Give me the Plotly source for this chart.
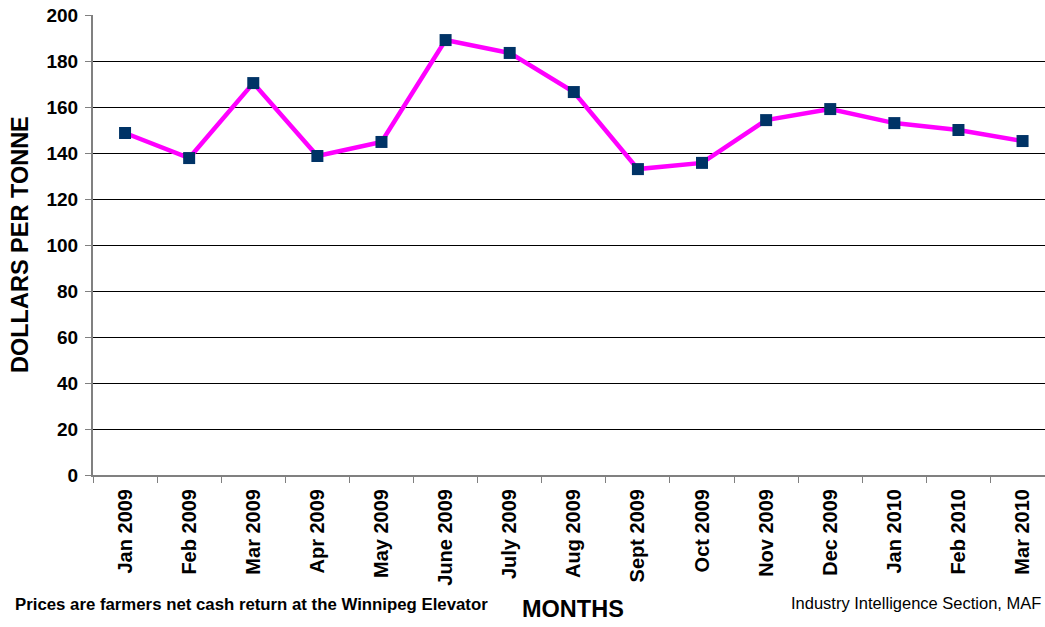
import plotly.graph_objects as go

months = ["Jan 2009", "Feb 2009", "Mar 2009", "Apr 2009", "May 2009", "June 2009",
          "July 2009", "Aug 2009", "Sept 2009", "Oct 2009", "Nov 2009", "Dec 2009",
          "Jan 2010", "Feb 2010", "Mar 2010"]
prices = [148.7, 137.8, 170.4, 138.7, 144.8, 189.1, 183.5, 166.5, 133.0, 135.7,
          154.3, 159.1, 153.0, 150.0, 145.2]
y_ticks = [0, 20, 40, 60, 80, 100, 120, 140, 160, 180, 200]

FONT = "Liberation Sans, Arial, sans-serif"
W, H = 1045, 627
L, R, T, B = 93, 0, 15, 152

fig = go.Figure()
fig.add_trace(go.Scatter(
    x=months, y=prices, mode="lines+markers",
    line=dict(color="#FF00FF", width=4.5),
    marker=dict(symbol="square", size=12, color="#003366", line=dict(width=0)),
    showlegend=False, cliponaxis=False,
))

plot_w = W - L - R
plot_h = H - T - B

def px_x(px):
    return (px - L) / plot_w

def px_y(py):
    return (H - B - py) / plot_h

fig.update_layout(
    width=W, height=H,
    margin=dict(l=L, r=R, t=T, b=B),
    paper_bgcolor="white", plot_bgcolor="white",
    font=dict(family=FONT, color="black"),
    xaxis=dict(
        type="category", range=[-0.5, 14.35], tickson="boundaries",
        ticks="outside", ticklen=6, tickcolor="#808080",
        showline=True, linecolor="#808080", linewidth=2,
        showgrid=False, tickangle=-90, ticklabelstandoff=4,
        tickfont=dict(family=FONT, size=20, color="black", weight="bold"),
    ),
    yaxis=dict(
        range=[0, 200], tickvals=y_ticks,
        ticks="outside", ticklen=6, tickcolor="#808080",
        showline=True, linecolor="#808080", linewidth=2,
        showgrid=True, gridcolor="black", gridwidth=1,
        zeroline=False, ticklabelstandoff=3,
        tickfont=dict(family=FONT, size=19, color="black", weight="bold"),
    ),
    annotations=[
        dict(text="DOLLARS PER TONNE", x=px_x(20), y=px_y(245),
             xref="paper", yref="paper", textangle=-90,
             xanchor="center", yanchor="middle", showarrow=False,
             font=dict(family=FONT, size=23.5, color="black", weight="bold")),
        dict(text="MONTHS", x=px_x(573), y=px_y(609), xref="paper", yref="paper",
             xanchor="center", yanchor="middle", showarrow=False,
             font=dict(family=FONT, size=23.5, color="black", weight="bold")),
        dict(text="Prices are farmers net cash return at the Winnipeg Elevator",
             x=px_x(13), y=px_y(604), xref="paper", yref="paper",
             xanchor="left", yanchor="middle", showarrow=False,
             font=dict(family=FONT, size=16.8, color="black", weight="bold")),
        dict(text="Industry Intelligence Section, MAF",
             x=px_x(1043), y=px_y(603), xref="paper", yref="paper",
             xanchor="right", yanchor="middle", showarrow=False,
             font=dict(family=FONT, size=16.5, color="black")),
    ],
)

fig.write_html("out.html", config={"displayModeBar": False},
               post_script="document.body.style.margin='0';document.body.style.overflow='hidden';")
